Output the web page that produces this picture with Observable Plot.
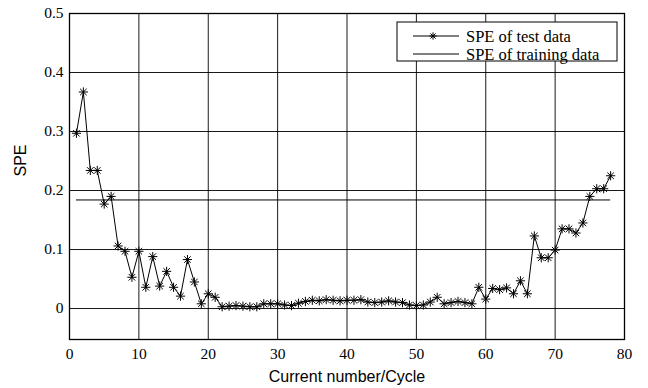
<!DOCTYPE html>
<html>
<head>
<meta charset="utf-8">
<script src="https://cdn.jsdelivr.net/npm/d3@7"></script>
<script src="https://cdn.jsdelivr.net/npm/@observablehq/plot@0.6"></script>
<style>
  body { margin: 0; background: #fff; }
</style>
</head>
<body>
<div id="chart"></div>
<script>
// Cycle index of each test sample
const cycles = [1, 2, 3, 4, 5, 6, 7, 8, 9, 10, 11, 12, 13, 14, 15, 16, 17, 18, 19, 20,
  21, 22, 23, 24, 25, 26, 27, 28, 29, 30, 31, 32, 33, 34, 35, 36, 37, 38, 39, 40,
  41, 42, 43, 44, 45, 46, 47, 48, 49, 50, 51, 52, 53, 54, 55, 56, 57, 58, 59, 60,
  61, 62, 63, 64, 65, 66, 67, 68, 69, 70, 71, 72, 73, 74, 75, 76, 77, 78];

// SPE statistic of the test data at each cycle
const testSPE = [0.297, 0.367, 0.234, 0.234, 0.177, 0.190, 0.106, 0.097, 0.053, 0.097,
  0.036, 0.088, 0.038, 0.063, 0.036, 0.021, 0.083, 0.045, 0.008, 0.025,
  0.019, 0.003, 0.004, 0.005, 0.004, 0.003, 0.003, 0.008, 0.008, 0.008,
  0.006, 0.005, 0.009, 0.012, 0.014, 0.013, 0.015, 0.014, 0.013, 0.014,
  0.014, 0.015, 0.011, 0.010, 0.011, 0.013, 0.011, 0.010, 0.006, 0.005,
  0.006, 0.011, 0.019, 0.008, 0.010, 0.012, 0.010, 0.008, 0.036, 0.016,
  0.034, 0.032, 0.035, 0.025, 0.047, 0.025, 0.123, 0.086, 0.086, 0.099,
  0.135, 0.135, 0.128, 0.145, 0.190, 0.203, 0.203, 0.225];

// SPE control limit from the training data and the cycles it spans
const trainingSPE = 0.184;
const trainingSpan = [1, 78];

const xTicks = [0, 10, 20, 30, 40, 50, 60, 70, 80];
const yTicks = [0, 0.1, 0.2, 0.3, 0.4, 0.5];

const seriesNames = ["SPE of test data", "SPE of training data"];

const testData = cycles.map((c, i) => ({cycle: c, spe: testSPE[i]}));

// Eight-armed asterisk marker (a "+" laid over an "x")
const asterisk = {
  draw(context, size) {
    const r = Math.sqrt(size / Math.PI);
    const d = r * Math.SQRT1_2;
    context.moveTo(-r, 0); context.lineTo(r, 0);
    context.moveTo(0, -r); context.lineTo(0, r);
    context.moveTo(-d, -d); context.lineTo(d, d);
    context.moveTo(-d, d); context.lineTo(d, -d);
  }
};

const serif = "'Liberation Serif', 'Times New Roman', serif";
const sans = "'Liberation Sans', Arial, sans-serif";

const chart = Plot.plot({
  width: 648,
  height: 388,
  marginLeft: 69,
  marginRight: 24,
  marginTop: 13,
  marginBottom: 49,
  style: {fontFamily: serif, fontSize: "15px", color: "black", background: "white"},
  x: {domain: [0, 80]},
  y: {domain: [-0.0525, 0.5]},
  marks: [
    Plot.gridX(xTicks.slice(1, -1), {stroke: "black", strokeOpacity: 0.9, strokeWidth: 1}),
    Plot.gridY(yTicks.slice(0, -1), {stroke: "black", strokeOpacity: 0.9, strokeWidth: 1}),
    Plot.ruleY([trainingSPE], {x1: trainingSpan[0], x2: trainingSpan[1], stroke: "black", strokeWidth: 1}),
    Plot.line(testData, {x: "cycle", y: "spe", stroke: "black", strokeWidth: 1}),
    Plot.dot(testData, {x: "cycle", y: "spe", symbol: asterisk, r: 4.6, stroke: "black", strokeWidth: 1}),
    Plot.frame({stroke: "black", strokeWidth: 1.3}),
    Plot.axisX(xTicks, {tickSize: 0, tickPadding: 8, label: null, fontFamily: serif, fontSize: 15.5}),
    Plot.axisY(yTicks, {tickSize: 0, tickPadding: 6, label: null, fontFamily: serif, fontSize: 15.5,
      tickFormat: d => d === 0 ? "0" : d.toFixed(1)}),
    Plot.text(["Current number/Cycle"], {frameAnchor: "bottom", dy: 37, lineAnchor: "middle",
      fontFamily: sans, fontSize: 16}),
    Plot.text(["SPE"], {frameAnchor: "left", dx: -49, rotate: -90, lineAnchor: "middle",
      fontFamily: sans, fontSize: 16})
  ]
});

// Legend box in the upper-right corner of the plotting area
const svg = d3.select(chart);
const lg = svg.append("g").attr("transform", "translate(397,22)");
lg.append("rect").attr("width", 220).attr("height", 39)
  .attr("fill", "white").attr("stroke", "black").attr("stroke-width", 1);
const rows = [14, 32];
rows.forEach((yy, i) => {
  lg.append("line").attr("x1", 16).attr("x2", 62).attr("y1", yy).attr("y2", yy)
    .attr("stroke", "black").attr("stroke-width", 1);
  lg.append("text").attr("x", 69).attr("y", yy).attr("dy", "0.34em")
    .attr("text-anchor", "start")
    .attr("font-family", serif).attr("font-size", 16.5).attr("fill", "black")
    .text(seriesNames[i]);
});
lg.append("path").attr("transform", `translate(36,${rows[0]})`)
  .attr("d", d3.symbol(asterisk, Math.PI * 3.6 * 3.6)())
  .attr("stroke", "black").attr("fill", "none");

document.getElementById("chart").appendChild(chart);
</script>
</body>
</html>
